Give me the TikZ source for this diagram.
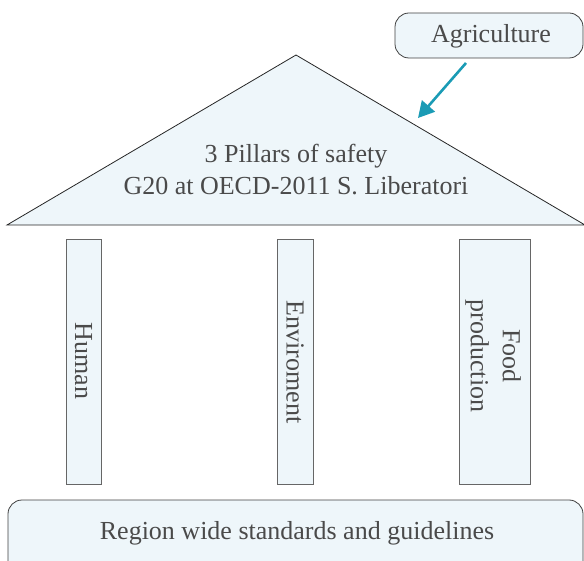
\documentclass[tikz,border=0pt]{standalone}
\usepackage{fontspec}
\setmainfont{Liberation Serif}
\usetikzlibrary{arrows.meta}
\definecolor{boxfill}{HTML}{EEF6FA}
\definecolor{txt}{HTML}{4A4A4A}
\definecolor{teal}{HTML}{1A9BB5}
\begin{document}
\begin{tikzpicture}[x=1pt,y=-1pt,
  lbl/.style={text=txt,font=\fontsize{26}{32}\selectfont,align=center},
  pillar/.style={draw=black!60,fill=boxfill,line width=0.8pt},
  rbox/.style={draw=black!75,fill=boxfill,line width=0.8pt,rounded corners=14pt}]
\useasboundingbox (0,0) rectangle (584,561);
\clip (0,0) rectangle (584,561);
% roof
\draw[fill=boxfill,draw=black!85,line width=0.8pt] (7,225) -- (296,55) -- (585,225) -- cycle;
\node[lbl] (roof) at (296,170) {3 Pillars of safety\\G20 at OECD-2011 S. Liberatori};
% agriculture
\draw[rbox] (395,13) rectangle (583,58);
\node[lbl] (agri) at (491,36) {Agriculture};
\coordinate (astart) at (466,63);
\coordinate (aend) at (418,118);
\draw[teal,line width=2.6pt,-{Triangle[length=16pt,width=17pt]}] (astart) -- (aend);
% pillars
\draw[pillar] (66,239) rectangle (101,484);
\node[lbl,rotate=-90] (human) at (83.5,361) {Human};
\draw[pillar] (277,239) rectangle (313,484);
\node[lbl,rotate=-90] (env) at (295,362) {Enviroment};
\draw[pillar] (459,239) rectangle (530,484);
\node[lbl,rotate=-90] (food) at (493,356) {Food\\production};
% base
\draw[rbox] (8,500) rectangle (583,590);
\node[lbl] (base) at (297,533) {Region wide standards and guidelines};
\end{tikzpicture}
\end{document}
